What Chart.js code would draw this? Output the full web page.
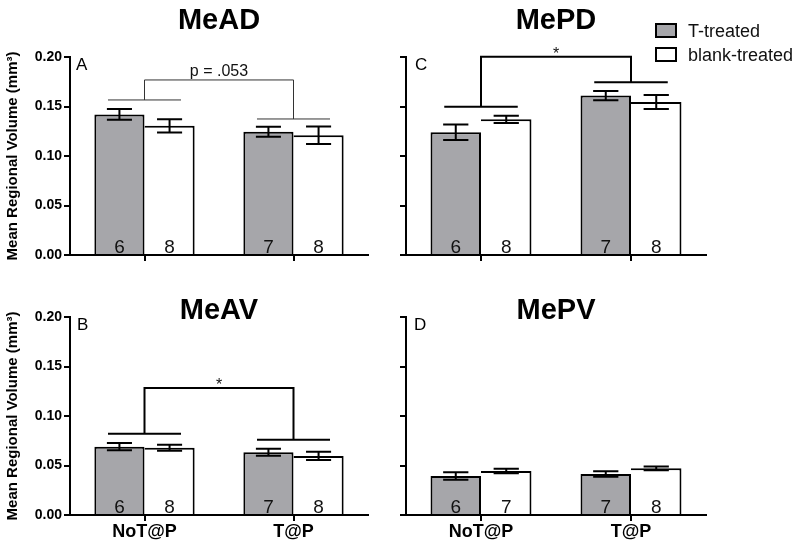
<!DOCTYPE html>
<html>
<head>
<meta charset="utf-8">
<script src="https://cdn.jsdelivr.net/npm/chart.js@4"></script>
<style>
html,body{margin:0;padding:0;background:#fff;}
#wrap{position:relative;width:800px;height:550px;overflow:hidden;}
canvas{position:absolute;}
</style>
</head>
<body>
<div id="wrap">
<canvas id="cA"></canvas>
<canvas id="cC"></canvas>
<canvas id="cB"></canvas>
<canvas id="cD"></canvas>
</div>
<script>
// ---------- DATA ----------
const groups = ['NoT@P', 'T@P'];
const seriesNames = ['T-treated', 'blank-treated'];
const yTickValues = [0, 0.05, 0.10, 0.15, 0.20];
const yTitle = 'Mean Regional Volume (mm³)';

// MeAD (A)
const meadT = [0.142, 0.1245];
const meadTErr = [0.0054, 0.005];
const meadB = [0.1305, 0.121];
const meadBErr = [0.0067, 0.0088];
const meadNT = [6, 7];
const meadNB = [8, 8];
const meadGroupLines = [0.1566, 0.1374];
const meadBracketTop = 0.1768;
const meadSig = 'p = .053';

// MePD (C)
const mepdT = [0.124, 0.161];
const mepdTErr = [0.0078, 0.0047];
const mepdB = [0.137, 0.1545];
const mepdBErr = [0.0037, 0.007];
const mepdNT = [6, 7];
const mepdNB = [8, 8];
const mepdGroupLines = [0.1498, 0.1744];
const mepdBracketTop = 0.2003;
const mepdSig = '*';

// MeAV (B)
const meavT = [0.069, 0.0634];
const meavTErr = [0.0037, 0.0035];
const meavB = [0.068, 0.0597];
const meavBErr = [0.003, 0.0042];
const meavNT = [6, 7];
const meavNB = [8, 8];
const meavGroupLines = [0.082, 0.0759];
const meavBracketTop = 0.1282;
const meavSig = '*';

// MePV (D)
const mepvT = [0.0394, 0.0414];
const mepvTErr = [0.0039, 0.0028];
const mepvB = [0.0444, 0.0471];
const mepvBErr = [0.0022, 0.002];
const mepvNT = [6, 7];
const mepvNB = [7, 8];

// ---------- STYLE ----------
const FONT = '"Liberation Sans", Arial, Helvetica, sans-serif';
const GRAY = '#a6a6aa';
Chart.defaults.font.family = FONT;
Chart.defaults.color = '#000';

const panels = [
  { id:'cA', title:'MeAD', letter:'A', box:{left:0, top:0, w:380, h:275},
    area:{left:70, top:57, right:368, bottom:255}, xAxisH:20, showX:false, showY:true,
    titleBase:29, letterDx:6,
    t:meadT, tErr:meadTErr, b:meadB, bErr:meadBErr, nT:meadNT, nB:meadNB,
    groupLines:meadGroupLines, bracketTop:meadBracketTop, sig:meadSig, thin:true },
  { id:'cC', title:'MePD', letter:'C', box:{left:380, top:0, w:420, h:275},
    area:{left:26, top:57, right:326, bottom:255}, xAxisH:20, showX:false, showY:false,
    titleBase:29, letterDx:9, legend:true,
    t:mepdT, tErr:mepdTErr, b:mepdB, bErr:mepdBErr, nT:mepdNT, nB:mepdNB,
    groupLines:mepdGroupLines, bracketTop:mepdBracketTop, sig:mepdSig, thin:false },
  { id:'cB', title:'MeAV', letter:'B', box:{left:0, top:275, w:380, h:275},
    area:{left:70, top:42, right:368, bottom:240}, xAxisH:35, showX:true, showY:true,
    titleBase:44, letterDx:7,
    t:meavT, tErr:meavTErr, b:meavB, bErr:meavBErr, nT:meavNT, nB:meavNB,
    groupLines:meavGroupLines, bracketTop:meavBracketTop, sig:meavSig, thin:false },
  { id:'cD', title:'MePV', letter:'D', box:{left:380, top:275, w:420, h:275},
    area:{left:26, top:42, right:326, bottom:240}, xAxisH:35, showX:true, showY:false,
    titleBase:44, letterDx:8,
    t:mepvT, tErr:mepvTErr, b:mepvB, bErr:mepvBErr, nT:mepvNT, nB:mepvNB,
    groupLines:null }
];

function decor(p) {
  return {
    id: 'decor_' + p.id,
    afterDraw(chart) {
      const ctx = chart.ctx, xs = chart.scales.x, ys = chart.scales.y, ca = chart.chartArea;
      ctx.save();
      // error bars and n labels
      const sets = [[p.t, p.tErr, p.nT], [p.b, p.bErr, p.nB]];
      sets.forEach((s, di) => {
        const meta = chart.getDatasetMeta(di);
        meta.data.forEach((el, i) => {
          const v = s[0][i], e = s[1][i];
          const yHi = ys.getPixelForValue(v + e), yLo = ys.getPixelForValue(v - e);
          const half = el.width * 0.25;
          ctx.strokeStyle = '#000'; ctx.lineWidth = 2;
          ctx.beginPath();
          ctx.moveTo(el.x, yHi); ctx.lineTo(el.x, yLo);
          ctx.moveTo(el.x - half, yHi); ctx.lineTo(el.x + half, yHi);
          ctx.moveTo(el.x - half, yLo); ctx.lineTo(el.x + half, yLo);
          ctx.stroke();
          ctx.fillStyle = '#111';
          ctx.font = '19px ' + FONT;
          ctx.textAlign = 'center'; ctx.textBaseline = 'alphabetic';
          ctx.fillText(String(s[2][i]), el.x, ys.getPixelForValue(0) - 2);
        });
      });
      // brackets
      if (p.groupLines) {
        const c0 = xs.getPixelForValue(0), c1 = xs.getPixelForValue(1);
        const span = (c1 - c0) * 0.245;
        const g = p.groupLines.map(v => ys.getPixelForValue(v));
        const top = ys.getPixelForValue(p.bracketTop);
        ctx.lineWidth = p.thin ? 1 : 2;
        ctx.strokeStyle = p.thin ? '#333' : '#000';
        ctx.beginPath();
        [c0, c1].forEach((c, i) => { ctx.moveTo(c - span, g[i]); ctx.lineTo(c + span, g[i]); });
        ctx.moveTo(c0, g[0]); ctx.lineTo(c0, top); ctx.lineTo(c1, top); ctx.lineTo(c1, g[1]);
        ctx.stroke();
        ctx.fillStyle = '#111';
        ctx.font = '16px ' + FONT;
        ctx.textAlign = 'center'; ctx.textBaseline = 'alphabetic';
        const ly = p.sig === '*' ? top + 2 : top - 4;
        ctx.fillText(p.sig, (c0 + c1) / 2, ly);
      }
      // title
      ctx.fillStyle = '#000';
      ctx.font = 'bold 29px ' + FONT;
      ctx.textAlign = 'center'; ctx.textBaseline = 'alphabetic';
      ctx.fillText(p.title, (ca.left + ca.right) / 2, p.titleBase);
      // panel letter
      ctx.font = '17px ' + FONT;
      ctx.textAlign = 'left';
      ctx.fillText(p.letter, ca.left + p.letterDx, ca.top + 13);
      // legend
      if (p.legend) {
        const fills = [GRAY, '#fff'];
        const boxY = [23, 47], textY = [37, 61];
        seriesNames.forEach((name, i) => {
          ctx.fillStyle = fills[i];
          ctx.fillRect(275, boxY[i], 22, 15);
          ctx.strokeStyle = '#000'; ctx.lineWidth = 2;
          ctx.strokeRect(276, boxY[i] + 1, 20, 13);
          ctx.fillStyle = '#111';
          ctx.font = '18px ' + FONT;
          ctx.textAlign = 'left';
          ctx.fillText(name, 308, textY[i]);
        });
      }
      ctx.restore();
    }
  };
}

function makePanel(p) {
  const canvas = document.getElementById(p.id);
  canvas.style.left = p.box.left + 'px';
  canvas.style.top = p.box.top + 'px';
  canvas.style.width = p.box.w + 'px';
  canvas.style.height = p.box.h + 'px';
  canvas.width = p.box.w; canvas.height = p.box.h;
  const common = { borderColor:'#000', borderSkipped:false, categoryPercentage:0.673, barPercentage:1.0 };
  new Chart(canvas, {
    type: 'bar',
    data: {
      labels: groups,
      datasets: [
        Object.assign({ label: seriesNames[0], data: p.t, backgroundColor: GRAY,
          borderWidth: {top:2, left:2, right:2, bottom:0} }, common),
        Object.assign({ label: seriesNames[1], data: p.b, backgroundColor: '#fff',
          borderWidth: {top:2, left:0, right:2, bottom:0} }, common)
      ]
    },
    options: {
      responsive: false, animation: false, devicePixelRatio: 1,
      layout: { padding: { top: p.area.top, right: p.box.w - p.area.right,
        bottom: p.box.h - p.area.bottom - p.xAxisH, left: 0 } },
      plugins: { legend: { display: false }, tooltip: { enabled: false }, title: { display: false } },
      scales: {
        x: {
          type: 'category', z: 1, offset: true,
          grid: { offset: false, drawOnChartArea: false, drawTicks: true, tickLength: 6, color: '#000', lineWidth: 2 },
          border: { display: true, color: '#000', width: 2 },
          ticks: { display: p.showX, font: { size: 18, weight: 'bold' }, padding: 0, color: '#000', maxRotation: 0, autoSkip: false },
          afterFit: s => { s.height = p.xAxisH; }
        },
        y: {
          min: 0, max: 0.2,
          afterBuildTicks: s => { s.ticks = yTickValues.map(v => ({ value: v })); },
          ticks: { callback: v => p.showY ? Number(v).toFixed(2) : '', font: { size: 14, weight: 'bold' }, padding: 2, color: '#000' },
          grid: { drawOnChartArea: false, drawTicks: true, tickLength: 6, color: '#000', lineWidth: 2 },
          border: { display: true, color: '#000', width: 2 },
          title: { display: p.showY, text: yTitle, font: { size: 15, weight: 'bold' }, color: '#000', padding: { top: 4, bottom: 0 } },
          afterFit: s => { s.width = p.area.left; }
        }
      }
    },
    plugins: [decor(p)]
  });
}

panels.forEach(makePanel);
</script>
</body>
</html>
